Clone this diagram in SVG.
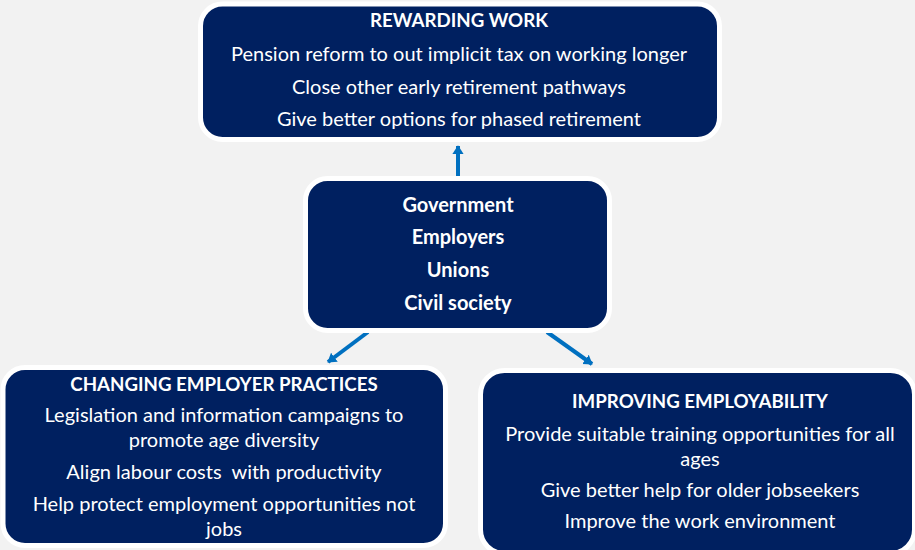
<svg xmlns="http://www.w3.org/2000/svg" width="915" height="550" viewBox="0 0 915 550">
<style>
.box{fill:#002060;stroke:#ffffff;stroke-width:5}
text{font-family:Lato,"Open Sans",sans-serif;fill:#ffffff;text-anchor:middle;font-size:20px}
.b{font-weight:bold;font-size:18.7px}
.m{font-weight:bold}
.conn{stroke:#0070C0;stroke-width:4;fill:none}
</style>
<defs>
<marker id="ah" markerWidth="4" markerHeight="4" refX="2" refY="2" orient="auto" markerUnits="strokeWidth">
<path d="M0,0.6 L2.2,2 L0,3.4 Z" fill="#0070C0"/>
</marker>
</defs>
<rect width="915" height="550" fill="#f2f2f2"/>
<g id="connectors">
<line class="conn" x1="458" y1="178" x2="458" y2="146" marker-end="url(#ah)"/>
<line class="conn" x1="368" y1="332" x2="328" y2="362" marker-end="url(#ah)"/>
<line class="conn" x1="547" y1="332" x2="592" y2="364" marker-end="url(#ah)"/>
</g>
<g id="rewarding">
<rect class="box" x="200.5" y="4" width="519" height="135.5" rx="22"/>
<text class="b" x="459" y="27">REWARDING WORK</text>
<text x="459" y="61">Pension reform to out implicit tax on working longer</text>
<text x="459" y="94">Close other early retirement pathways</text>
<text x="459" y="126">Give better options for phased retirement</text>
</g>
<g id="actors">
<rect class="box" x="305.5" y="178.5" width="304" height="152" rx="22"/>
<text class="m" x="458" y="212">Government</text>
<text class="m" x="458" y="244">Employers</text>
<text class="m" x="458" y="277">Unions</text>
<text class="m" x="458" y="310">Civil society</text>
</g>
<g id="employer">
<rect class="box" x="3" y="367.5" width="442.5" height="178" rx="22"/>
<text class="b" x="224" y="391">CHANGING EMPLOYER PRACTICES</text>
<text x="224" y="422">Legislation and information campaigns to<tspan x="224" y="447">promote age diversity</tspan></text>
<text x="224" y="479" xml:space="preserve">Align labour costs  with productivity</text>
<text x="224" y="511">Help protect employment opportunities not<tspan x="224" y="536">jobs</tspan></text>
</g>
<g id="employability">
<rect class="box" x="480.5" y="370.5" width="434" height="183" rx="24"/>
<text class="b" x="700" y="408">IMPROVING EMPLOYABILITY</text>
<text x="700" y="441">Provide suitable training opportunities for all<tspan x="700" y="466">ages</tspan></text>
<text x="700" y="497">Give better help for older jobseekers</text>
<text x="700" y="528">Improve the work environment</text>
</g>
</svg>
